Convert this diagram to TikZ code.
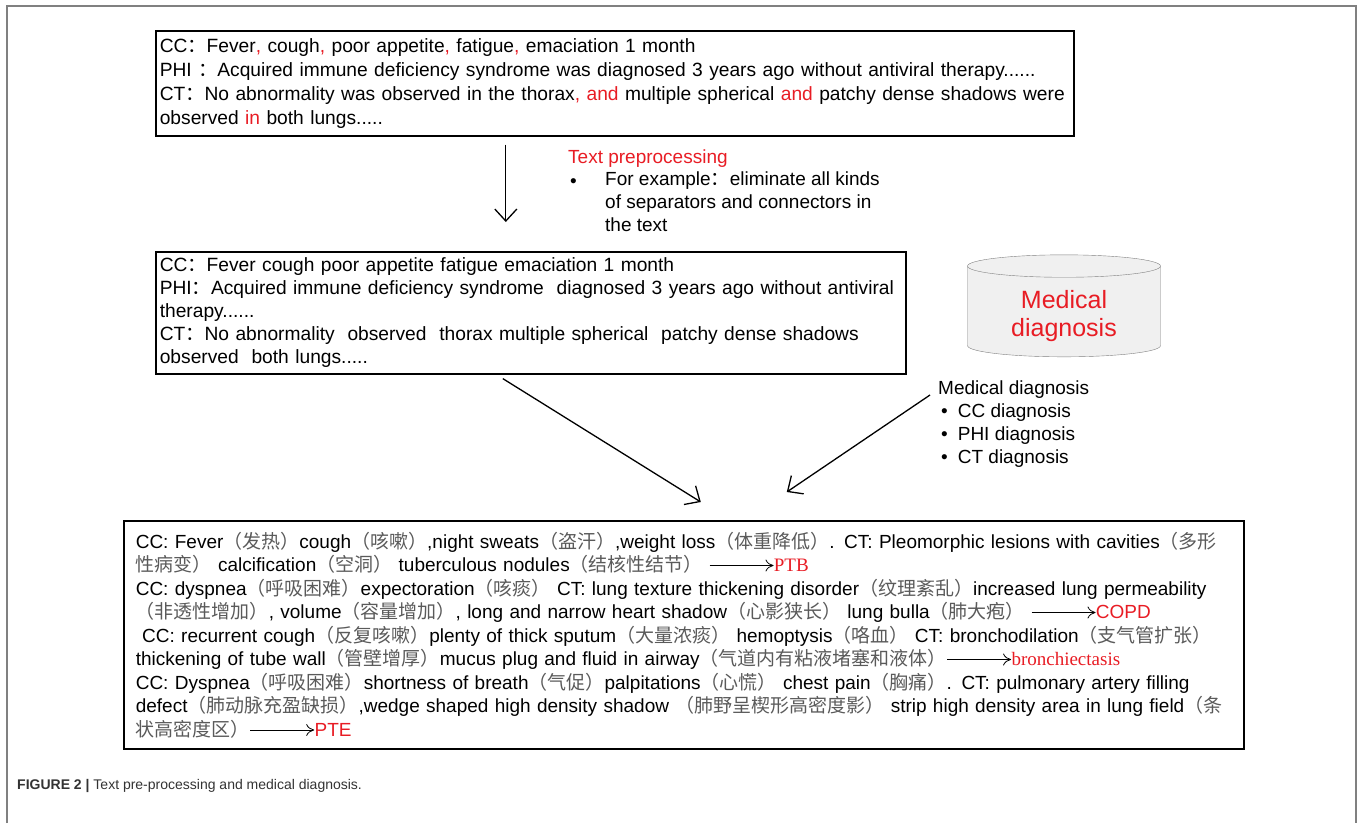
\documentclass[tikz,border=0pt]{standalone}
\usepackage{fontspec}
\setmainfont{Liberation Sans}
\newfontfamily\cjk{Noto Sans CJK SC}
\newfontfamily\rmlab{Liberation Serif}
\usetikzlibrary{arrows.meta, positioning, shapes.geometric}

\definecolor{hl}{RGB}{232,28,36}
\definecolor{zhgray}{RGB}{90,90,90}
\newcommand{\zh}[1]{{\cjk\color{zhgray}#1}}
\newcommand{\rc}[1]{\textcolor{hl}{#1}}
\newcommand{\fc}{{\cjk ：}}
\newcommand{\lto}{\tikz[baseline=-0.6ex, x=1pt, y=1pt]\draw[-{To[length=8pt, width=12pt]}, line width=0.8pt] (0,0) -- (64,0);}

\begin{document}
\begin{tikzpicture}[x=1pt, y=-1pt,
  box/.style={draw, line width=1.6pt, align=left, inner xsep=4pt, inner ysep=0pt,
              anchor=north west, font=\fontsize{19.2}{24}\selectfont},
  note/.style={align=left, anchor=west, inner sep=0pt, font=\fontsize{19}{23}\selectfont},
  arr/.style={-{Straight Barb[length=12pt, width=22pt]}, line width=1.3pt}
]
\useasboundingbox (0,0) rectangle (1357,823);
\draw[gray, line width=1.5pt] (7,823) -- (7,6) -- (1356,6) -- (1356,823);

\node[box, text width=910pt, minimum height=105pt] (raw) at (155,30) {%
CC\fc Fever\rc{,} cough\rc{,} poor appetite\rc{,} fatigue\rc{,} emaciation 1 month\\
PHI \fc Acquired immune deficiency syndrome was diagnosed 3 years ago without antiviral therapy......\\
CT\fc No abnormality was observed in the thorax\rc{, and} multiple spherical \rc{and} patchy dense shadows were\\
observed \rc{in} both lungs.....};

\node[note, text=hl] (prep) at (568,159) {Text preprocessing};
\node[note] (prepdot) at (570,183) {•};
\node[note, anchor=north west] (prepitem) at (605,172) {For example\fc eliminate all kinds\\
of separators and connectors in\\the text};

\node[box, text width=742pt, minimum height=122pt, font=\fontsize{19.2}{23}\selectfont] (clean) at (155,251) {%
CC\fc Fever cough poor appetite fatigue emaciation 1 month\\
PHI\fc Acquired immune deficiency syndrome\ \ diagnosed 3 years ago without antiviral\\
therapy......\\
CT\fc No abnormality\ \ observed\ \ thorax multiple spherical\ \ patchy dense shadows\\
observed\ \ both lungs.....};

\node[cylinder, shape border rotate=90, aspect=0.2, draw=gray, fill=gray!12,
      minimum width=193pt, minimum height=102pt, text=hl, align=center, text depth=-6pt,
      font=\fontsize{25}{28}\selectfont] (db) at (1064,313) {Medical\\diagnosis};

\node[note, anchor=north west] (mdx) at (938,381) {%
Medical diagnosis\\
\hspace*{3pt}•\hspace{10pt}CC diagnosis\\
\hspace*{3pt}•\hspace{10pt}PHI diagnosis\\
\hspace*{3pt}•\hspace{10pt}CT diagnosis};

\node[box, text width=1096pt, inner xsep=12pt, minimum height=228pt,
      font=\fontsize{19}{23.5}\selectfont] (cases) at (123,520) {%
CC: Fever\zh{（发热）}cough\zh{（咳嗽）},night sweats\zh{（盗汗）},weight loss\zh{（体重降低）}. CT: Pleomorphic lesions with cavities\zh{（多形}\\
\zh{性病变）} calcification\zh{（空洞）} tuberculous nodules\zh{（结核性结节）} \lto{\rmlab\rc{PTB}}\\
CC: dyspnea\zh{（呼吸困难）}expectoration\zh{（咳痰）} CT: lung texture thickening disorder\zh{（纹理紊乱）}increased lung permeability\\
\zh{（非透性增加）}, volume\zh{（容量增加）}, long and narrow heart shadow\zh{（心影狭长）} lung bulla\zh{（肺大疱）} \lto\rc{COPD}\\
\ CC: recurrent cough\zh{（反复咳嗽）}plenty of thick sputum\zh{（大量浓痰）} hemoptysis\zh{（咯血）} CT: bronchodilation\zh{（支气管扩张）}\\
thickening of tube wall\zh{（管壁增厚）}mucus plug and fluid in airway\zh{（气道内有粘液堵塞和液体）}\lto{\rmlab\rc{bronchiectasis}}\\
CC: Dyspnea\zh{（呼吸困难）}shortness of breath\zh{（气促）}palpitations\zh{（心慌）} chest pain\zh{（胸痛）}. CT: pulmonary artery filling\\
defect\zh{（肺动脉充盈缺损）},wedge shaped high density shadow \zh{（肺野呈楔形高密度影）} strip high density area in lung field\zh{（条}\\
\zh{状高密度区）}\lto\rc{PTE}};

\node[anchor=base west, inner sep=0pt, text=black!80, font=\fontsize{14}{16}\selectfont] (cap) at (17,789)
  {\textbf{FIGURE 2 |} Text pre-processing and medical diagnosis.};

\draw[arr, shorten <=8pt, shorten >=29pt] ([xshift=-109pt]raw.south) -- ([xshift=-109pt]raw.south |- clean.north);
\draw[arr] ([xshift=-28pt, yshift=-4pt]clean.south) -- ([xshift=17pt, yshift=18pt]cases.north);
\draw[arr] ([xshift=-8pt, yshift=-14pt]mdx.north west) -- ([xshift=103pt, yshift=28pt]cases.north);
\end{tikzpicture}
\end{document}
